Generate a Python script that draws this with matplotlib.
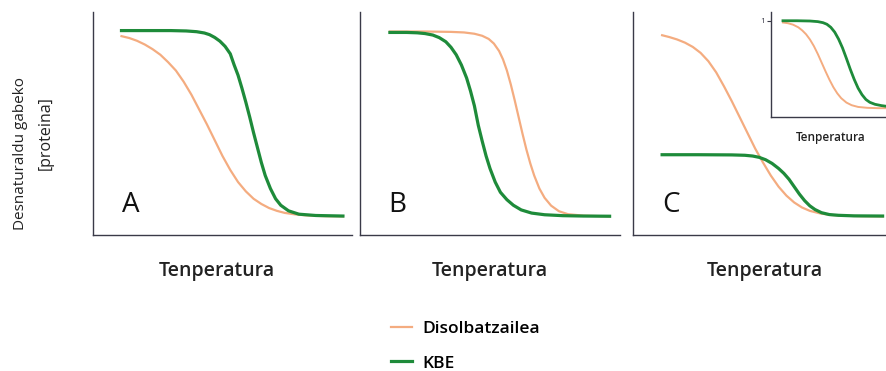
import matplotlib
matplotlib.use("Agg")
import matplotlib.pyplot as plt

# --- values (temperature 0-100, native protein fraction 0-1) ---
a_temp_dis = [11, 14, 17, 20, 23, 26, 29, 32, 35, 38, 41, 44, 47, 50, 53, 56, 59, 62, 65,
              68, 71, 74, 78, 82, 86, 90, 96.5]
a_prot_dis = [0.97, 0.96, 0.945, 0.925, 0.90, 0.87, 0.83, 0.785, 0.725, 0.655, 0.575, 0.495,
              0.41, 0.325, 0.25, 0.185, 0.135, 0.095, 0.067, 0.045, 0.030, 0.019, 0.011,
              0.006, 0.003, 0.001, 0.0]
a_temp_kbe = [11, 20, 30, 36, 40, 43, 45, 47, 49, 51, 53, 54.5, 56, 57.5, 59, 60.5, 62, 63.5,
              65, 66.5, 68.5, 70.5, 72.5, 75.5, 79.5, 86, 96.5]
a_prot_kbe = [1.0, 1.0, 1.0, 0.998, 0.994, 0.987, 0.978, 0.963, 0.943, 0.915, 0.875, 0.815,
              0.76, 0.69, 0.615, 0.535, 0.45, 0.37, 0.29, 0.22, 0.15, 0.095, 0.06, 0.03,
              0.012, 0.005, 0.002]

b_temp_dis = [11.5, 25, 35, 40, 44, 47, 49.5, 51.5, 53.5, 55, 56.5, 58, 59.5, 61, 62.5, 64,
              65.5, 67, 69, 71, 73.5, 76.5, 80, 86, 96]
b_prot_dis = [0.995, 0.995, 0.993, 0.99, 0.983, 0.972, 0.955, 0.93, 0.89, 0.845, 0.785, 0.71,
              0.625, 0.535, 0.445, 0.36, 0.285, 0.22, 0.15, 0.1, 0.058, 0.028, 0.012, 0.004,
              0.0]
b_temp_kbe = [11.5, 18, 22, 25, 28, 30.5, 33, 35, 37, 39, 41, 42.5, 44, 45.5, 47, 48.5, 50,
              52, 54, 56.5, 59, 62, 66, 71, 78, 86, 96]
b_prot_kbe = [0.99, 0.99, 0.988, 0.984, 0.976, 0.962, 0.94, 0.91, 0.87, 0.815, 0.745, 0.675,
              0.595, 0.49, 0.405, 0.325, 0.258, 0.185, 0.13, 0.09, 0.06, 0.035, 0.018, 0.009,
              0.004, 0.002, 0.001]

c_temp_dis = [11.2, 14, 17, 20, 23, 26, 29, 32, 35, 38, 41, 44, 47, 50, 53, 56, 59, 62, 65,
              68, 72, 76, 81, 88, 96]
c_prot_dis = [0.975, 0.965, 0.952, 0.935, 0.912, 0.88, 0.835, 0.775, 0.70, 0.62, 0.535, 0.45,
              0.365, 0.29, 0.22, 0.16, 0.112, 0.075, 0.048, 0.03, 0.016, 0.008, 0.004, 0.001,
              0.0]
c_temp_kbe = [11.2, 25, 38, 43, 46, 48.5, 51, 53.5, 56, 58, 60, 62, 64, 66, 68, 70, 72.5,
              75.5, 79, 85, 96]
c_prot_kbe = [0.332, 0.332, 0.331, 0.329, 0.325, 0.318, 0.305, 0.285, 0.258, 0.232, 0.2,
              0.16, 0.12, 0.085, 0.057, 0.037, 0.02, 0.01, 0.006, 0.003, 0.002]

# inset of panel C (normalised curves)
i_temp_dis = [9.2, 13, 17, 21, 24, 27, 30, 33, 36, 39, 42, 45, 48, 51, 54, 58, 62, 67, 74,
              82, 96]
i_prot_dis = [0.98, 0.972, 0.955, 0.925, 0.89, 0.845, 0.785, 0.71, 0.62, 0.52, 0.42, 0.325,
              0.24, 0.17, 0.115, 0.065, 0.035, 0.015, 0.005, 0.001, 0.0]
i_temp_kbe = [9.2, 20, 30, 36, 40, 43, 46, 49, 52, 55, 58, 61, 64, 67, 70, 73, 76, 80, 85,
              90, 96]
i_prot_kbe = [1.0, 1.0, 0.997, 0.99, 0.978, 0.96, 0.925, 0.87, 0.79, 0.69, 0.57, 0.445, 0.33,
              0.23, 0.155, 0.1, 0.068, 0.045, 0.03, 0.02, 0.012]

panel_letters = ["A", "B", "C"]
series_labels = ["Disolbatzailea", "KBE"]
xlabel = "Tenperatura"
ylabel = ["Desnaturaldu gabeko", "[proteina]"]

ORANGE, GREEN, SPINE = "#F4AC80", "#1E8B3A", "#3a3a48"
W, H = 886, 371
plt.rcParams["font.family"] = ["Open Sans", "DejaVu Sans"]


def box(l, t, r, b):
    return [l / W, 1 - b / H, (r - l) / W, (b - t) / H]


def style(ax):
    for s in ("top", "right"):
        ax.spines[s].set_visible(False)
    for s in ("left", "bottom"):
        ax.spines[s].set_color(SPINE)
        ax.spines[s].set_linewidth(1.0)
    ax.set_xticks([]); ax.set_yticks([])
    ax.set_xlim(0, 100); ax.set_ylim(-0.1, 1.1)
    ax.patch.set_alpha(0)


fig = plt.figure(figsize=(W / 100, H / 100), dpi=100)
panels = [
    (box(93, 12, 352, 235), a_temp_dis, a_prot_dis, a_temp_kbe, a_prot_kbe, 217),
    (box(360, 12, 620, 235), b_temp_dis, b_prot_dis, b_temp_kbe, b_prot_kbe, 490),
    (box(633, 12, 893, 235), c_temp_dis, c_prot_dis, c_temp_kbe, c_prot_kbe, 765),
]
handles = None
for letter, (pos, td, pd_, tk, pk, lx) in zip(panel_letters, panels):
    ax = fig.add_axes(pos)
    style(ax)
    l1, = ax.plot(td, pd_, color=ORANGE, lw=1.6)
    l2, = ax.plot(tk, pk, color=GREEN, lw=2.3)
    handles = handles or [l1, l2]
    ax.text(14.5, 0.06, letter, fontsize=20, color="#111", ha="center", va="center")
    fig.text(lx / W, 1 - 271 / H, xlabel, fontsize=14, fontweight="semibold",
             color="#222", ha="center", va="center")

ins = fig.add_axes(box(771, 12, 901, 117))
style(ins)
ins.plot(i_temp_dis, i_prot_dis, color=ORANGE, lw=1.4)
ins.plot(i_temp_kbe, i_prot_kbe, color=GREEN, lw=2.0)
ins.set_yticks([1]); ins.set_yticklabels(["1"], fontsize=6)
ins.tick_params(axis="y", length=3, width=0.8, pad=1, colors=SPINE)
fig.text(831 / W, 1 - 137 / H, xlabel, fontsize=8.5, fontweight="semibold",
         color="#222", ha="center", va="center")

fig.text(21 / W, 1 - 154 / H, ylabel[0], rotation=90, fontsize=11, color="#222",
         ha="center", va="center")
fig.text(46 / W, 1 - 133 / H, ylabel[1], rotation=90, fontsize=11.5, color="#222",
         ha="center", va="center")

fig.legend(handles, series_labels, loc="upper left", bbox_to_anchor=(391 / W, 1 - 321 / H),
           frameon=False, prop={"weight": "semibold", "size": 12.5},
           handlelength=1.2, handletextpad=0.6, labelspacing=1.05,
           borderpad=0, borderaxespad=0)

fig.savefig("out.png", dpi=100)
